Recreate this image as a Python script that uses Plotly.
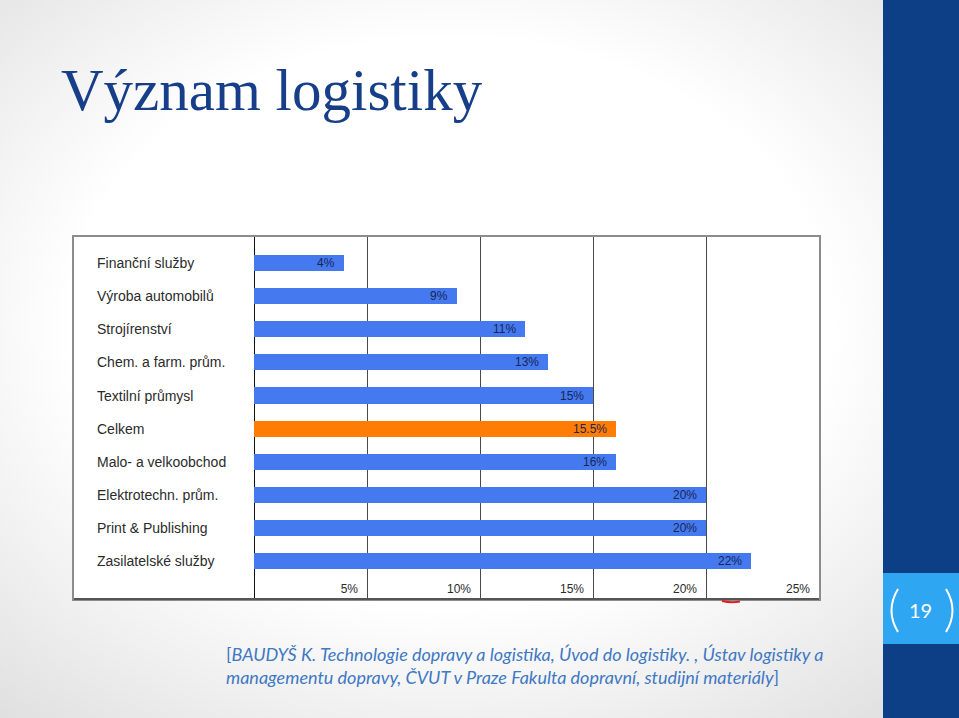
import base64
import plotly.graph_objects as go

# ---------------- data ----------------
categories = [
    "Finanční služby",
    "Výroba automobilů",
    "Strojírenství",
    "Chem. a farm. prům.",
    "Textilní průmysl",
    "Celkem",
    "Malo- a velkoobchod",
    "Elektrotechn. prům.",
    "Print & Publishing",
    "Zasilatelské služby",
]
bar_lengths = [4, 9, 12, 13, 15, 16, 16, 20, 20, 22]          # as drawn in the picture (%)
value_labels = ["4%", "9%", "11%", "13%", "15%", "15.5%", "16%", "20%", "20%", "22%"]
highlight = "Celkem"
x_tick_vals = [0, 5, 10, 15, 20, 25]
x_tick_text = ["", "5%", "10%", "15%", "20%", "25%"]

title_text = "Význam logistiky"
citation_line1 = "BAUDYŠ K. Technologie dopravy a logistika, Úvod do logistiky. , Ústav logistiky a"
citation_line2 = "managementu dopravy, ČVUT v Praze Fakulta dopravní, studijní materiály"
page_number = "19"

# ---------------- style ----------------
W, H = 959, 718
L, R, T, B = 74, 819, 237, 599          # plot area in pixels
BLUE = "#4479f0"
ORANGE = "#ff7d05"
NAVY = "#0c3f86"
LIGHTBLUE = "#2fa6f2"
TITLE_COL = "#173f89"
CITE_COL = "#3f78c3"


def px_x(px):
    return (px - L) / (R - L)


def px_y(py):
    return (B - py) / (B - T)


colors = [ORANGE if c == highlight else BLUE for c in categories]

fig = go.Figure()
fig.add_trace(go.Bar(
    y=categories, x=bar_lengths, orientation="h",
    marker=dict(color=colors, line=dict(width=0)),
    width=0.485, hoverinfo="skip", showlegend=False,
))

annotations = []
# category labels (left aligned inside the frame)
for c in categories:
    annotations.append(dict(
        x=-7.05, y=c, xref="x", yref="y", text=c, showarrow=False,
        xanchor="left", yanchor="middle",
        font=dict(family="Liberation Sans, Arial", size=14, color="#2b2b2b"),
    ))
# value labels inside bar ends
for c, v, t in zip(categories, bar_lengths, value_labels):
    annotations.append(dict(
        x=v, y=c, xref="x", yref="y", text=t, showarrow=False,
        xanchor="right", yanchor="middle", xshift=-7,
        font=dict(family="Liberation Sans, Arial", size=12, color="#1b2552"),
    ))
# title
annotations.append(dict(
    x=px_x(59), y=px_y(90), xref="paper", yref="paper", text=title_text,
    showarrow=False, xanchor="left", yanchor="middle",
    font=dict(family="Liberation Serif, Times New Roman", size=59, color=TITLE_COL),
))
# citation
annotations.append(dict(
    x=px_x(224), y=px_y(665), xref="paper", yref="paper",
    text="[<i>" + citation_line1 + "</i><br><i>" + citation_line2 + "</i>]",
    showarrow=False, xanchor="left", yanchor="middle", align="left",
    font=dict(family="Lato", size=18, color=CITE_COL),
))
# page number
annotations.append(dict(
    x=px_x(920), y=px_y(610), xref="paper", yref="paper", text=page_number,
    showarrow=False, xanchor="center", yanchor="middle",
    font=dict(family="Lato", size=20, color="white"),
))

shapes = [
    # white chart area over the gradient background
    dict(type="rect", xref="paper", yref="paper", x0=0, x1=1, y0=0, y1=1,
         fillcolor="white", line=dict(width=0), layer="below"),
    # bottom frame line (darker)
    dict(type="line", xref="paper", yref="paper", x0=0, x1=1, y0=0, y1=0,
         line=dict(color="#555555", width=2)),
    # right slide band
    dict(type="rect", xref="paper", yref="paper", x0=px_x(883), x1=px_x(W),
         y0=px_y(H), y1=px_y(0), fillcolor=NAVY, line=dict(width=0)),
    dict(type="rect", xref="paper", yref="paper", x0=px_x(883), x1=px_x(W),
         y0=px_y(644), y1=px_y(573), fillcolor=LIGHTBLUE, line=dict(width=0)),
    # brackets around page number
    dict(type="path", xref="paper", yref="paper",
         path=f"M {px_x(898)} {px_y(589)} Q {px_x(885)} {px_y(610.5)} {px_x(898)} {px_y(632)}",
         line=dict(color="white", width=2)),
    dict(type="path", xref="paper", yref="paper",
         path=f"M {px_x(946)} {px_y(589)} Q {px_x(959)} {px_y(610.5)} {px_x(946)} {px_y(632)}",
         line=dict(color="white", width=2)),
    # red swoosh fragment below chart
    dict(type="path", xref="paper", yref="paper",
         path=f"M {px_x(722)} {px_y(601)} Q {px_x(731)} {px_y(603)} {px_x(740)} {px_y(601.5)}",
         line=dict(color="#e02020", width=2)),
]

svg = (
    f'<svg xmlns="http://www.w3.org/2000/svg" width="{W}" height="{H}">'
    '<defs><radialGradient id="g" cx="0.47" cy="0.45" r="0.72">'
    '<stop offset="0.55" stop-color="#ffffff"/>'
    '<stop offset="1" stop-color="#e0e0e0"/>'
    '</radialGradient></defs>'
    f'<rect width="{W}" height="{H}" fill="url(#g)"/></svg>'
)
bg_uri = "data:image/svg+xml;base64," + base64.b64encode(svg.encode()).decode()

fig.update_layout(
    width=W, height=H, autosize=False,
    margin=dict(l=L, r=W - R, t=T, b=H - B, pad=0),
    paper_bgcolor="white", plot_bgcolor="white",
    bargap=0,
    annotations=annotations, shapes=shapes,
    images=[dict(source=bg_uri, xref="paper", yref="paper",
                 x=px_x(0), y=px_y(0), sizex=W / (R - L), sizey=H / (B - T),
                 xanchor="left", yanchor="top", sizing="stretch", layer="below")],
    xaxis=dict(
        range=[-(254 - L) / 22.6, 25], tickvals=x_tick_vals, ticktext=x_tick_text,
        ticklabelposition="inside left", ticklabelshift=-8, ticks="",
        tickfont=dict(family="Liberation Sans, Arial", size=12, color="#2b2b2b"),
        showgrid=True, gridcolor="#4a4a4a", gridwidth=1, zeroline=True,
        zerolinecolor="#111111", zerolinewidth=1,
        showline=True, linecolor="#8c8c8c", linewidth=2, mirror=True, fixedrange=True,
    ),
    yaxis=dict(
        categoryorder="array", categoryarray=categories,
        range=[10.15, -0.79], showticklabels=False, ticks="", showgrid=False,
        zeroline=False, showline=True, linecolor="#8c8c8c", linewidth=2, mirror=True,
        fixedrange=True,
    ),
)

fig.write_html("out.html", config={"displayModeBar": False})
